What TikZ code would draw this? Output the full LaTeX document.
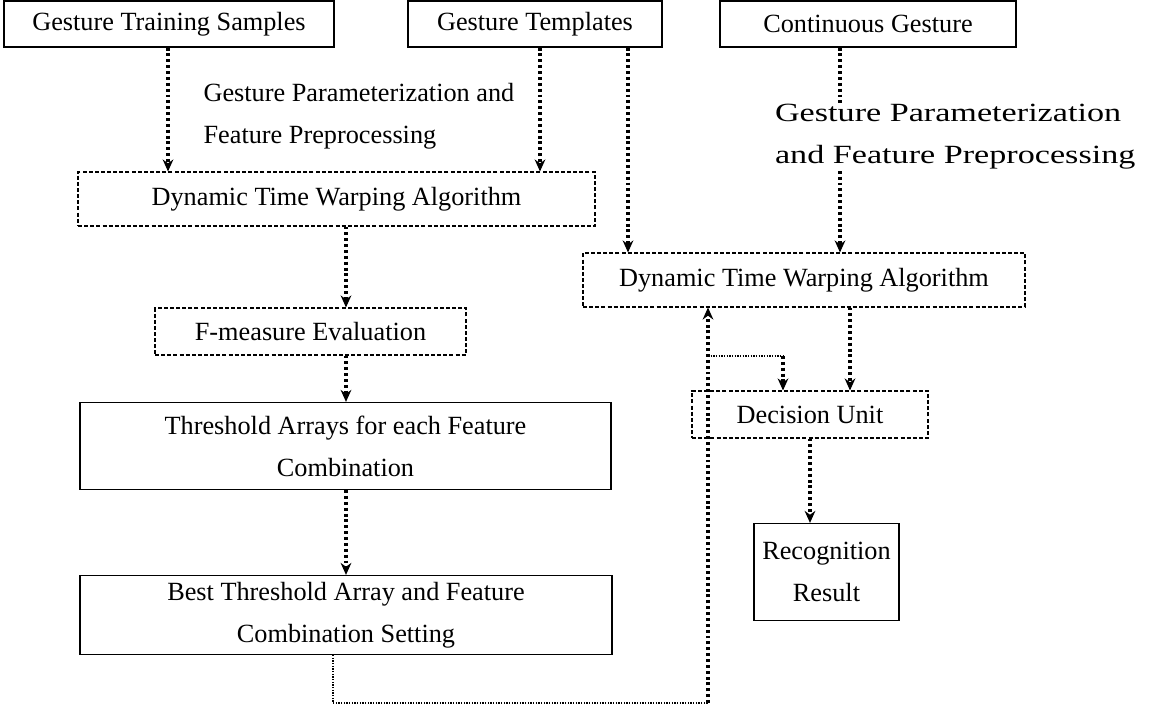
\documentclass[tikz,border=0pt]{standalone}
\usepackage{fontspec}
\setmainfont{Liberation Serif}
\usepackage{tikz}
\usetikzlibrary{arrows.meta,positioning}

\tikzset{
  solidbox/.style={draw, line width=0.9pt, align=center, inner sep=0pt},
  dashbox/.style={draw, line width=0.8pt, dash pattern=on 3pt off 1.6pt, align=center, inner sep=0pt},
  flow/.style={line width=2.5pt, dash pattern=on 2.2pt off 2.2pt, -{Stealth[length=9pt,width=8pt]}},
  thinflow/.style={line width=0.8pt, dash pattern=on 1pt off 1pt},
  note/.style={align=left, anchor=west, inner sep=1pt, fill=white}
}

\begin{document}
\begin{tikzpicture}[x=0.75pt, y=-0.75pt, font=\fontsize{19.7}{31.5}\selectfont]
      \useasboundingbox (0,0) rectangle (1150,707);
      % top row
      \node[solidbox, minimum width=330*0.75pt, minimum height=46*0.75pt] (train) at (169,24) {Gesture Training Samples};
      \node[solidbox, minimum width=254*0.75pt, minimum height=46*0.75pt] (tmpl) at (535,24) {Gesture Templates};
      \node[solidbox, minimum width=296*0.75pt, minimum height=46*0.75pt] (cont) at (868,24) {Continuous Gesture};
      % training branch
      \node[dashbox, minimum width=517*0.75pt, minimum height=54*0.75pt] (dtwL) at (336.5,199) {Dynamic Time Warping Algorithm};
      \node[dashbox, minimum width=311*0.75pt, minimum height=47*0.75pt] (fmeas) at (310.5,331.5) {F-measure Evaluation};
      \node[solidbox, minimum width=531*0.75pt, minimum height=87*0.75pt] (thr) at (345.5,446) {Threshold Arrays for each Feature\\Combination};
      \node[solidbox, minimum width=532*0.75pt, minimum height=79*0.75pt] (best) at (346,615) {Best Threshold Array and Feature\\Combination Setting};
      % recognition branch
      \node[dashbox, minimum width=442*0.75pt, minimum height=54*0.75pt] (dtwR) at (804,280) {Dynamic Time Warping Algorithm};
      \node[dashbox, minimum width=236*0.75pt, minimum height=47*0.75pt] (dec) at (810,414.5) {Decision Unit};
      \node[solidbox, minimum width=145*0.75pt, minimum height=97*0.75pt] (rec) at (826.5,572) {Recognition\\Result};
      % columns for the connectors
      \coordinate (c1) at (168,0);
      \coordinate (c2) at (540,0);
      \coordinate (c3) at (628,0);
      \coordinate (c4) at (840,0);
      \coordinate (c5) at (850,0);
      \coordinate (c7) at (346,0);
      \coordinate (fb) at (333,703);
      \coordinate (up) at (708,703);
      \coordinate (split) at (708,356);
      \coordinate (c6) at (783,356);
      \path[flow]
      (train.south -| c1) edge (dtwL.north -| c1)
      (tmpl.south -| c2) edge (dtwL.north -| c2)
      (tmpl.south -| c3) edge (dtwR.north -| c3)
      (cont.south -| c4) edge (dtwR.north -| c4)
      (dtwL.south -| c7) edge (fmeas.north -| c7)
      (fmeas.south -| c7) edge (thr.north -| c7)
      (thr.south -| c7) edge (best.north -| c7)
      (dtwR.south -| c5) edge (dec.north -| c5)
      (dec.south) edge (rec.north -| dec.south)
      (up) edge (dtwR.south -| up)
      (c6) edge (dec.north -| c6);
      \draw[thinflow] (best.south -| fb) -- (fb) -- (up);
      \draw[thinflow] (split) -- (c6);
      % labels
      \node[note] (prepL) at (202,116) {Gesture Parameterization and\\Feature Preprocessing};
      \node[note, xscale=1.3, transform shape] (prepR) at (773,137) {Gesture Parameterization\\and Feature Preprocessing};
    \end{tikzpicture}
\end{document}
